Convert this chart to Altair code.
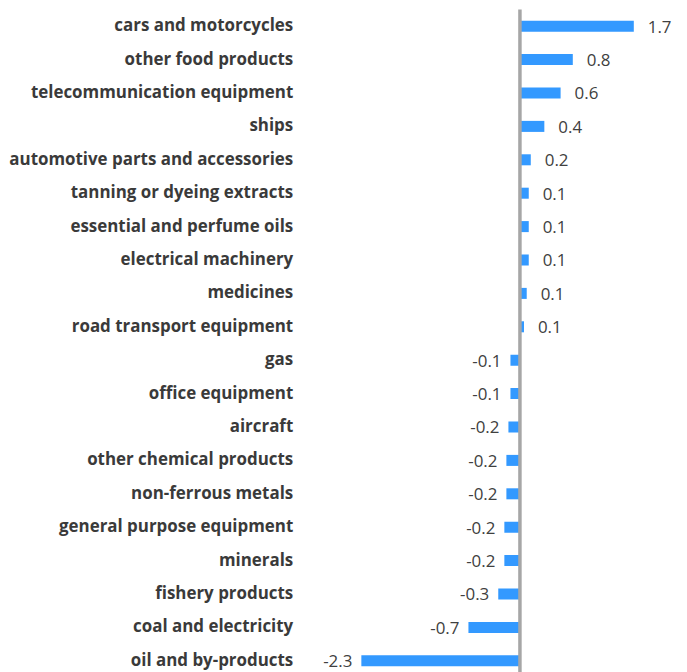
import altair as alt
import pandas as pd

categories = [
    "cars and motorcycles", "other food products", "telecommunication equipment",
    "ships", "automotive parts and accessories", "tanning or dyeing extracts",
    "essential and perfume oils", "electrical machinery", "medicines",
    "road transport equipment", "gas", "office equipment", "aircraft",
    "other chemical products", "non-ferrous metals", "general purpose equipment",
    "minerals", "fishery products ", "coal and electricity", "oil and by-products",
]
values = [1.68, 0.78, 0.60, 0.36, 0.16, 0.13, 0.13, 0.13, 0.10, 0.06,
          -0.14, -0.14, -0.17, -0.20, -0.20, -0.23, -0.23, -0.32, -0.76, -2.34]
value_labels = ["1.7", "0.8", "0.6", "0.4", "0.2", "0.1", "0.1", "0.1", "0.1", "0.1",
                "-0.1", "-0.1", "-0.2", "-0.2", "-0.2", "-0.2", "-0.2", "-0.3", "-0.7", "-2.3"]

df = pd.DataFrame({"cat": categories, "val": values, "lab": value_labels})

xscale = alt.Scale(domain=[-3, 2.2], nice=False, zero=False)
yscale = alt.Scale(paddingInner=0.67, paddingOuter=0.335)

base = alt.Chart(df)

bars = base.mark_bar(color="#3399FF").encode(
    x=alt.X("val:Q", scale=xscale, axis=None),
    y=alt.Y("cat:N", sort=None, scale=yscale,
            axis=alt.Axis(title=None, domain=False, ticks=False, grid=False,
                          labelPadding=24, labelFont="Open Sans", labelFontWeight="bold",
                          labelFontSize=17, labelColor="#3A3A3A", labelLimit=400)),
)

pos_text = base.transform_filter("datum.val >= 0").mark_text(
    align="left", baseline="middle", dx=14, dy=1.5, font="Open Sans", fontSize=17, color="#404040"
).encode(x=alt.X("val:Q", scale=xscale), y=alt.Y("cat:N", sort=None, scale=yscale), text="lab:N")

neg_text = base.transform_filter("datum.val < 0").mark_text(
    align="right", baseline="middle", dx=-9, dy=1.5, font="Open Sans", fontSize=17, color="#404040"
).encode(x=alt.X("val:Q", scale=xscale), y=alt.Y("cat:N", sort=None, scale=yscale), text="lab:N")

zero_df = pd.DataFrame({"z": [0]})
zero_line = alt.Chart(zero_df).mark_rule(color="#A6A6A6", strokeWidth=3.5).encode(
    x=alt.X("z:Q", scale=xscale)
)

chart = alt.layer(bars, zero_line, pos_text, neg_text).properties(
    width=354, height=671, autosize="none",
    padding={"left": 310, "top": 0, "right": 10, "bottom": 0},
).configure_view(stroke=None)

chart.save("out.html", embed_options={"renderer": "svg", "actions": False})
